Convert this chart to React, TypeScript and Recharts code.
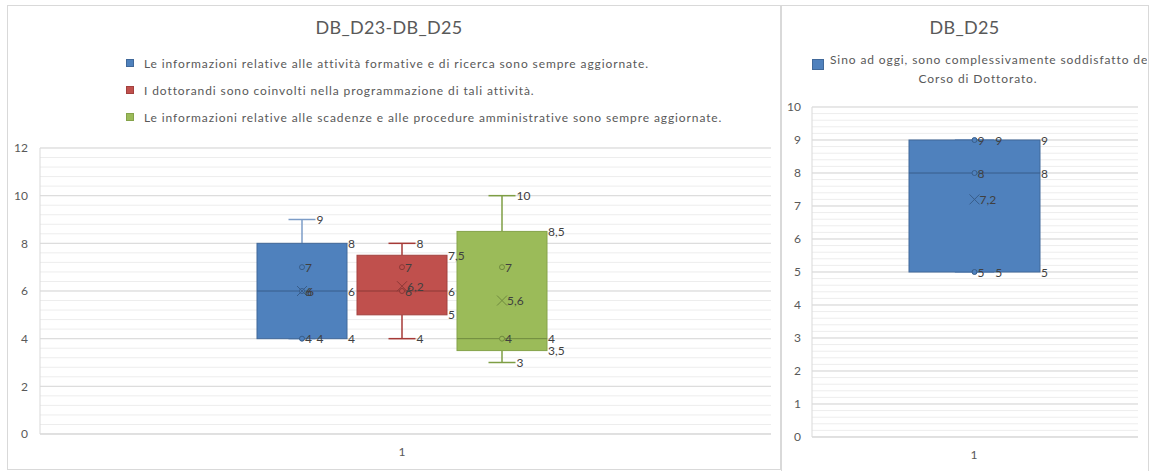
import React from 'react';
import { ComposedChart, Bar, XAxis, YAxis, CartesianGrid } from 'recharts';

// ---------- shared ----------
const categories = ['1'];

// ---------- left chart: DB_D23-DB_D25 ----------
const leftTitle = 'DB_D23-DB_D25';
const leftSeriesNames = [
  'Le informazioni relative alle attività formative e di ricerca sono sempre aggiornate.',
  'I dottorandi sono coinvolti nella programmazione di tali attività.',
  'Le informazioni relative alle scadenze e alle procedure amministrative sono sempre aggiornate.',
];
const leftMin = [4, 4, 3];
const leftQ1 = [4, 5, 3.5];
const leftMedian = [6, 6, 4];
const leftQ3 = [8, 7.5, 8.5];
const leftMax = [9, 8, 10];
const leftMean = [6, 6.2, 5.6];
const leftPoints = [[7, 6, 4], [7, 6], [7, 4]];
const leftYTicks = [0, 2, 4, 6, 8, 10, 12];
const leftMinorTicks = [
  0, 0.4, 0.8, 1.2, 1.6, 2, 2.4, 2.8, 3.2, 3.6, 4, 4.4, 4.8, 5.2, 5.6, 6,
  6.4, 6.8, 7.2, 7.6, 8, 8.4, 8.8, 9.2, 9.6, 10, 10.4, 10.8, 11.2, 11.6, 12,
];

// ---------- right chart: DB_D25 ----------
const rightTitle = 'DB_D25';
const rightSeriesNames = ['Sino ad oggi, sono complessivamente soddisfatto del Corso di Dottorato.'];
const rightLegendLines = ['Sino ad oggi, sono complessivamente soddisfatto del', 'Corso di Dottorato.'];
const rightMin = [5];
const rightQ1 = [5];
const rightMedian = [8];
const rightQ3 = [9];
const rightMax = [9];
const rightMean = [7.2];
const rightPoints = [[9, 8, 5]];
const rightYTicks = [0, 1, 2, 3, 4, 5, 6, 7, 8, 9, 10];
const rightMinorTicks = [
  0, 0.2, 0.4, 0.6, 0.8, 1, 1.2, 1.4, 1.6, 1.8, 2, 2.2, 2.4, 2.6, 2.8, 3,
  3.2, 3.4, 3.6, 3.8, 4, 4.2, 4.4, 4.6, 4.8, 5, 5.2, 5.4, 5.6, 5.8, 6,
  6.2, 6.4, 6.6, 6.8, 7, 7.2, 7.4, 7.6, 7.8, 8, 8.2, 8.4, 8.6, 8.8, 9,
  9.2, 9.4, 9.6, 9.8, 10,
];

const palettes = [
  { fill: '#4F81BD', edge: '#41699A', whisker: '#7C9CC7', dark: '#385D8A' },
  { fill: '#C0504D', edge: '#A3413E', whisker: '#A63A37', dark: '#8C3836' },
  { fill: '#9BBB59', edge: '#85A34A', whisker: '#7E9E44', dark: '#6F8A3E' },
];

const FONT = 'Lato, "Open Sans", sans-serif';
const fmt = (v: number) => String(v).replace('.', ',');

type Stat = {
  min: number; q1: number; median: number; q3: number; max: number; mean: number; points: number[];
};
type Pal = { fill: string; edge: string; whisker: string; dark: string };

function makeStats(mins: number[], q1: number[], med: number[], q3: number[], max: number[], mean: number[], pts: number[][]): Stat[] {
  return mins.map((m, i) => ({ min: m, q1: q1[i], median: med[i], q3: q3[i], max: max[i], mean: mean[i], points: pts[i] }));
}

function buildData(stats: Stat[]) {
  return categories.map((name) => {
    const row: Record<string, any> = { name };
    stats.forEach((s, j) => {
      row['w' + j] = [s.min, s.max];
    });
    return row;
  });
}

function boxShape(st: Stat, pal: Pal, mode: 'marks' | 'labels') {
  return (props: any) => {
    const { x, y, width, height } = props;
    if (x == null || y == null) return <g />;
    const top = Math.min(y, y + height);
    const bot = Math.max(y, y + height);
    const k = (bot - top) / (st.max - st.min);
    const Y = (v: number) => bot - (v - st.min) * k;
    const cx = x + width / 2;
    const cap = width * 0.15;
    const right = x + width;
    const ms = 5;
    if (mode === 'labels') {
      const lab = { fontSize: 12, fill: '#404040', fontFamily: FONT, dominantBaseline: 'central' as any };
      return (
        <g>
          <text x={cx + cap + 1} y={Y(st.max)} {...lab}>{fmt(st.max)}</text>
          <text x={cx + cap + 1} y={Y(st.min)} {...lab}>{fmt(st.min)}</text>
          <text x={right + 1} y={Y(st.q3)} {...lab}>{fmt(st.q3)}</text>
          <text x={right + 1} y={Y(st.median)} {...lab}>{fmt(st.median)}</text>
          <text x={right + 1} y={Y(st.q1)} {...lab}>{fmt(st.q1)}</text>
          {st.points.map((p, i) => (
            <text key={'pl' + i} x={cx + 3} y={Y(p)} {...lab}>{fmt(p)}</text>
          ))}
          <text x={cx + 5} y={Y(st.mean)} {...lab}>{fmt(st.mean)}</text>
        </g>
      );
    }
    return (
      <g>
        <line x1={cx} x2={cx} y1={Y(st.q3)} y2={Y(st.max)} stroke={pal.whisker} strokeWidth={1.5} />
        <line x1={cx - cap} x2={cx + cap} y1={Y(st.max)} y2={Y(st.max)} stroke={pal.whisker} strokeWidth={1.5} />
        <line x1={cx} x2={cx} y1={Y(st.q1)} y2={Y(st.min)} stroke={pal.whisker} strokeWidth={1.5} />
        <line x1={cx - cap} x2={cx + cap} y1={Y(st.min)} y2={Y(st.min)} stroke={pal.whisker} strokeWidth={1.5} />
        <rect x={x} y={Y(st.q3)} width={width} height={Math.max(0, Y(st.q1) - Y(st.q3))} fill={pal.fill} stroke={pal.edge} strokeWidth={1} />
        <line x1={x} x2={right} y1={Y(st.median)} y2={Y(st.median)} stroke={pal.dark} strokeWidth={1} />
        {st.points.map((p, i) => (
          <circle key={'p' + i} cx={cx} cy={Y(p)} r={2.5} fill={pal.fill} stroke={pal.dark} strokeWidth={1} />
        ))}
        <line x1={cx - ms} x2={cx + ms} y1={Y(st.mean) - ms} y2={Y(st.mean) + ms} stroke={pal.dark} strokeWidth={1} />
        <line x1={cx - ms} x2={cx + ms} y1={Y(st.mean) + ms} y2={Y(st.mean) - ms} stroke={pal.dark} strokeWidth={1} />
      </g>
    );
  };
}

const leftStats = makeStats(leftMin, leftQ1, leftMedian, leftQ3, leftMax, leftMean, leftPoints);
const rightStats = makeStats(rightMin, rightQ1, rightMedian, rightQ3, rightMax, rightMean, rightPoints);
const leftData = buildData(leftStats);
const rightData = buildData(rightStats);

const tickStyle = { fill: '#595959', fontSize: 12, fontFamily: FONT };

type PanelProps = {
  data: any[]; stats: Stat[]; names: string[]; width: number; height: number;
  margin: any; yTicks: number[]; minor: number[]; yDomain: [number, number];
  yWidth: number; yTickMargin: number; barSize: number; xPadRight: number; mode: 'marks' | 'labels';
};

function BoxPanel(p: PanelProps) {
  const marks = p.mode === 'marks';
  return (
    <ComposedChart width={p.width} height={p.height} data={p.data} margin={p.margin} barGap={10}>
      {marks && <CartesianGrid horizontalValues={p.minor} vertical={false} stroke="#EDEDED" />}
      {marks && <CartesianGrid horizontalValues={p.yTicks} vertical={false} stroke="#D9D9D9" />}
      <XAxis dataKey="name" height={20} padding={{ left: 0, right: p.xPadRight }}
        axisLine={marks ? { stroke: '#D9D9D9' } : false} tickLine={false}
        tick={marks ? tickStyle : false} tickMargin={7} />
      <YAxis type="number" domain={p.yDomain} ticks={p.yTicks} interval={0} width={p.yWidth}
        axisLine={marks ? { stroke: '#D9D9D9' } : false} tickLine={false}
        tick={marks ? tickStyle : false} tickMargin={p.yTickMargin} />
      {p.stats.map((st, j) => (
        <Bar key={j} dataKey={'w' + j} name={p.names[j]} fill={palettes[j].fill} barSize={p.barSize}
          isAnimationActive={false} shape={boxShape(st, palettes[j], p.mode)} />
      ))}
    </ComposedChart>
  );
}

const leftCfg = {
  data: leftData, stats: leftStats, names: leftSeriesNames, width: 773, height: 464,
  margin: { top: 143, right: 9, bottom: 15, left: 0 }, yTicks: leftYTicks, minor: leftMinorTicks,
  yDomain: [0, 12] as [number, number], yWidth: 33, yTickMargin: 6, barSize: 90, xPadRight: 7,
};
const rightCfg = {
  data: rightData, stats: rightStats, names: rightSeriesNames, width: 367, height: 466,
  margin: { top: 102, right: 10, bottom: 14, left: 0 }, yTicks: rightYTicks, minor: rightMinorTicks,
  yDomain: [0, 10] as [number, number], yWidth: 31, yTickMargin: 5, barSize: 131, xPadRight: 2,
};

export default function App() {
  return (
    <div style={{ position: 'absolute', left: 0, top: 0, width: 1156, height: 471, background: '#fff', overflow: 'hidden', fontFamily: FONT }}>
      {/* panel borders */}
      <div style={{ position: 'absolute', left: 7, top: 5, width: 774, height: 465, border: '1px solid #D9D9D9', boxSizing: 'border-box' }} />
      <div style={{ position: 'absolute', left: 781, top: 5, width: 368, height: 475, border: '1px solid #D9D9D9', boxSizing: 'border-box' }} />

      {/* left chart: marks, then labels on top */}
      <div style={{ position: 'absolute', left: 7, top: 5 }}>
        <BoxPanel {...leftCfg} mode="marks" />
      </div>
      <div style={{ position: 'absolute', left: 7, top: 5, pointerEvents: 'none' }}>
        <BoxPanel {...leftCfg} mode="labels" />
      </div>

      {/* left title & legend */}
      <div style={{ position: 'absolute', left: 7, width: 774, top: 14, textAlign: 'center', fontSize: 18, color: '#595959', lineHeight: '26px' }}>
        <span style={{ position: 'relative', left: -5, letterSpacing: 0.3 }}>{leftTitle}</span>
      </div>
      {leftSeriesNames.map((n, j) => (
        <div key={j} style={{ position: 'absolute', left: 126, top: 54 + j * 27, height: 18, display: 'flex', alignItems: 'center', whiteSpace: 'nowrap' }}>
          <div style={{ width: 8, height: 8, background: palettes[j].fill, border: '1px solid ' + palettes[j].edge, boxSizing: 'border-box', marginRight: 10 }} />
          <span style={{ fontSize: 12, color: '#595959', letterSpacing: 0.9 }}>{n}</span>
        </div>
      ))}

      {/* right chart */}
      <div style={{ position: 'absolute', left: 781, top: 5 }}>
        <BoxPanel {...rightCfg} mode="marks" />
      </div>
      <div style={{ position: 'absolute', left: 781, top: 5, pointerEvents: 'none' }}>
        <BoxPanel {...rightCfg} mode="labels" />
      </div>

      {/* right title & legend */}
      <div style={{ position: 'absolute', left: 781, width: 367, top: 14, textAlign: 'center', fontSize: 18, color: '#595959', lineHeight: '26px' }}>
        <span style={{ position: 'relative', left: 0, letterSpacing: 0.3 }}>{rightTitle}</span>
      </div>
      <div style={{ position: 'absolute', left: 782, top: 0, width: 365, height: 140, overflow: 'hidden' }}>
        <div style={{ position: 'absolute', left: 30, top: 59, width: 12, height: 11, background: palettes[0].fill, border: '1px solid ' + palettes[0].edge, boxSizing: 'border-box' }} />
        <div style={{ position: 'absolute', left: 48, top: 51, whiteSpace: 'nowrap', fontSize: 12, color: '#595959', letterSpacing: 0.9, lineHeight: '18px' }}>{rightLegendLines[0]}</div>
        <div style={{ position: 'absolute', left: 146, width: 100, top: 70, textAlign: 'center', whiteSpace: 'nowrap', fontSize: 12, color: '#595959', letterSpacing: 0.9, lineHeight: '18px', display: 'flex', justifyContent: 'center' }}>{rightLegendLines[1]}</div>
      </div>
    </div>
  );
}
